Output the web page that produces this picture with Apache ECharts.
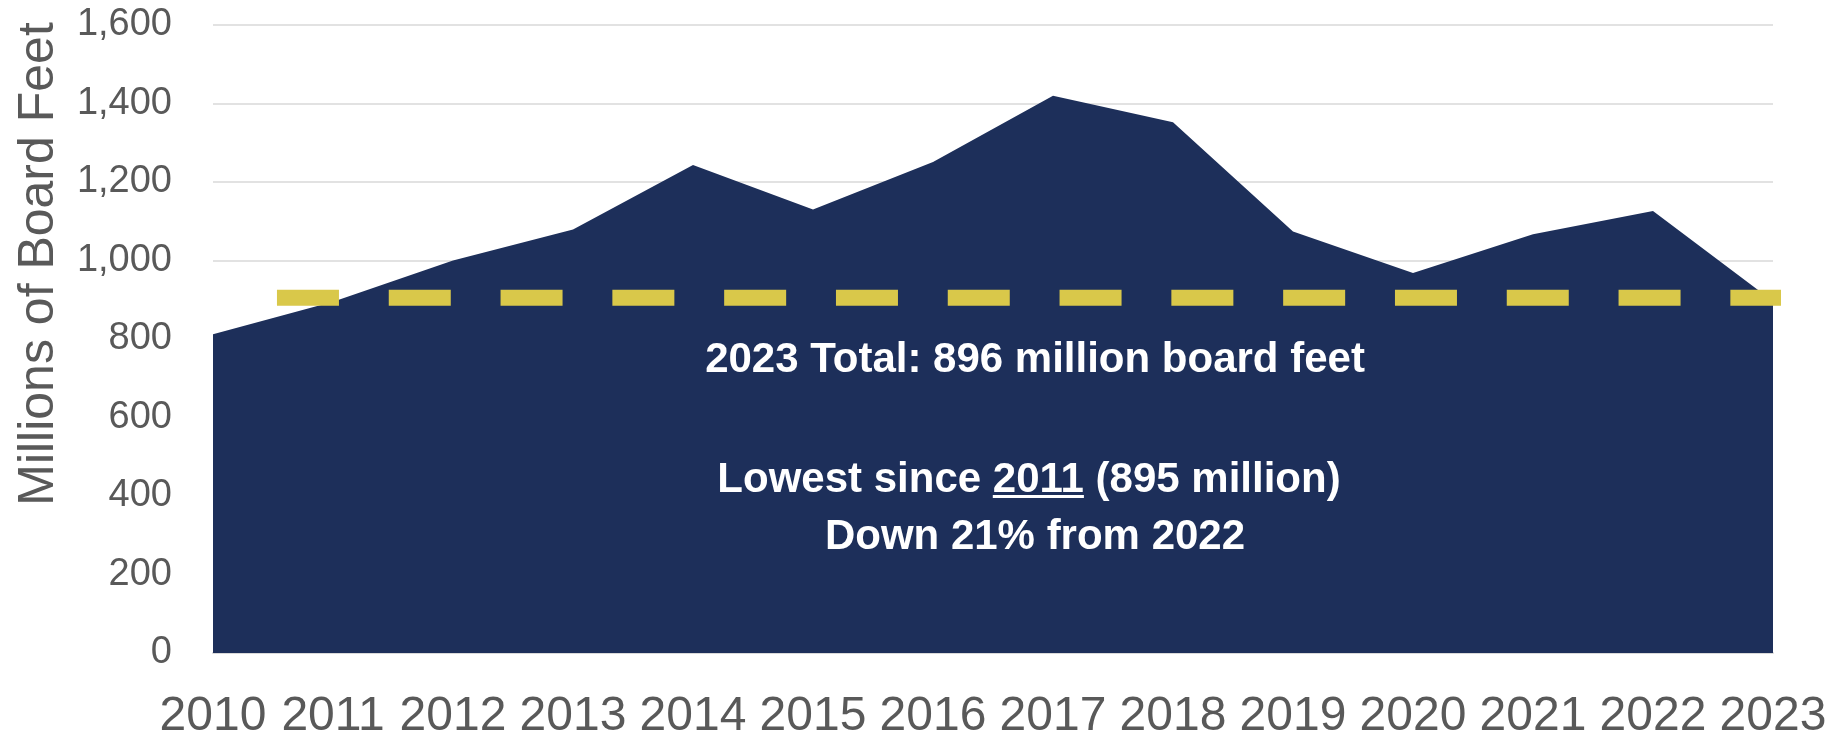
<!DOCTYPE html>
<html>
<head>
<meta charset="utf-8">
<script src="https://cdn.jsdelivr.net/npm/echarts@6/dist/echarts.min.js"></script>
<style>
html,body{margin:0;padding:0;background:#fff;}
#chart{width:1837px;height:745px;}
</style>
</head>
<body>
<div id="chart"></div>
<script>
// ---- data ----
const years = ['2010','2011','2012','2013','2014','2015','2016','2017','2018','2019','2020','2021','2022','2023'];
const boardFeet = [812, 895, 1000, 1079, 1243, 1130, 1251, 1420, 1352, 1074, 968, 1067, 1126, 896];
const yTicks = [0, 200, 400, 600, 800, 1000, 1200, 1400, 1600];
const refLineValue = 905;          // dashed reference level (≈2023 total)
const refLineSpan = [0.533, 13.175]; // start/end in category-index units
const yTitle = 'Millions of Board Feet';
const noteLine1 = '2023 Total: 896 million board feet';
const noteLine2a = 'Lowest since ';
const noteLine2b = '2011';
const noteLine2c = ' (895 million)';
const noteLine3 = 'Down 21% from 2022';

// ---- styles ----
const navy = '#1D2F5A';
const gold = '#D9C84A';
const grey = '#595959';
const labelFont = '"Liberation Sans", Arial, sans-serif';

const chart = echarts.init(document.getElementById('chart'), null, {renderer:'canvas'});

// measure text for underline placement
const mctx = document.createElement('canvas').getContext('2d');
const noteFont = 'bold 42px "Liberation Sans", Arial, sans-serif';
mctx.font = noteFont;
const full2 = noteLine2a + noteLine2b + noteLine2c;
const w2 = mctx.measureText(full2).width;
const wPre = mctx.measureText(noteLine2a).width;
const wUnd = mctx.measureText(noteLine2b).width;
const line2cx = 1029, line2cy = 480;
const ulX1 = line2cx - w2 / 2 + wPre;

const option = {
  animation: false,
  grid: {left: 213, right: 64, top: 25, bottom: 92, containLabel: false},
  xAxis: [{
    type: 'category',
    data: years,
    boundaryGap: false,
    axisLine: {show: true, lineStyle: {color: '#D9D9D9', width: 2}},
    axisTick: {show: false},
    axisLabel: {color: grey, fontSize: 48, fontFamily: labelFont, margin: 40, interval: 0}
  }, {
    type: 'value', min: 0, max: years.length - 1, show: false
  }],
  yAxis: {
    type: 'value',
    min: yTicks[0], max: yTicks[yTicks.length - 1], interval: 200,
    axisLine: {show: false}, axisTick: {show: false},
    splitLine: {lineStyle: {color: '#D9D9D9', width: 1.5}},
    axisLabel: {
      color: grey, fontSize: 38, fontFamily: labelFont, margin: 41,
      formatter: v => v.toLocaleString('en-US')
    }
  },
  series: [{
    type: 'line',
    data: boardFeet,
    symbol: 'none',
    lineStyle: {width: 0},
    areaStyle: {color: navy, opacity: 1},
    z: 2
  }, {
    type: 'line',
    xAxisIndex: 1,
    data: [[refLineSpan[0], refLineValue], [refLineSpan[1], refLineValue]],
    symbol: 'none',
    clip: false,
    lineStyle: {color: gold, width: 16, type: [62, 49.8], cap: 'butt'},
    z: 3
  }],
  graphic: [{
    type: 'text',
    x: 39, y: 264,
    rotation: Math.PI / 2,
    style: {text: yTitle, fill: grey, fontSize: 50, fontFamily: labelFont, align: 'center', verticalAlign: 'middle'},
    z: 10
  }, {
    type: 'text', x: 1035, y: 360,
    style: {text: noteLine1, fill: '#fff', font: noteFont, align: 'center', verticalAlign: 'middle'},
    z: 10
  }, {
    type: 'text', x: line2cx, y: line2cy,
    style: {text: full2, fill: '#fff', font: noteFont, align: 'center', verticalAlign: 'middle'},
    z: 10
  }, {
    type: 'rect',
    shape: {x: ulX1, y: 495, width: wUnd, height: 3},
    style: {fill: '#fff'},
    z: 10
  }, {
    type: 'text', x: 1035, y: 537,
    style: {text: noteLine3, fill: '#fff', font: noteFont, align: 'center', verticalAlign: 'middle'},
    z: 10
  }]
};
chart.setOption(option);
</script>
</body>
</html>
